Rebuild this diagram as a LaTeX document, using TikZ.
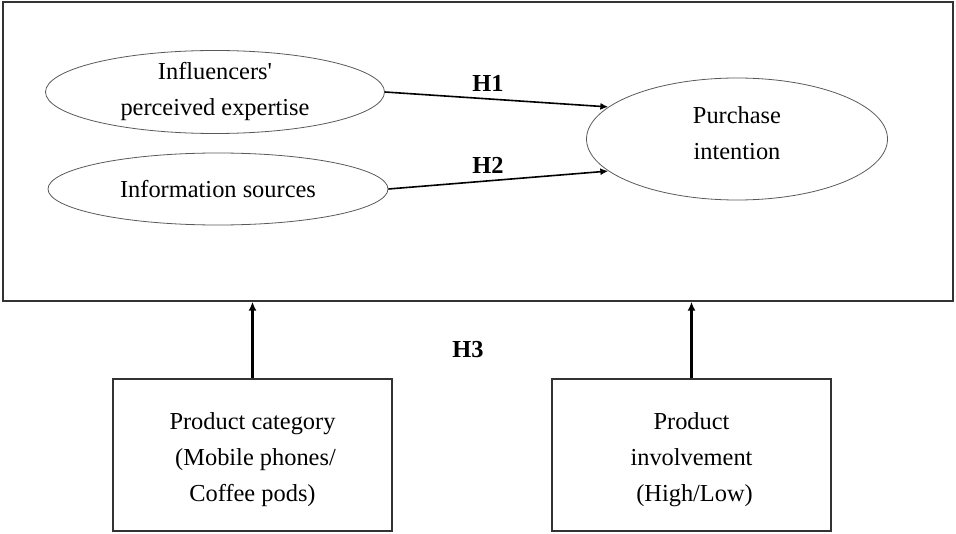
\documentclass[tikz,border=0pt]{standalone}
\usepackage{fontspec}
\setmainfont{Liberation Serif}
\usetikzlibrary{shapes.geometric,arrows.meta}
\begin{document}
\begin{tikzpicture}[x=0.5pt, y=-0.5pt,
  every node/.style={font=\fontsize{12.2}{18}\selectfont, align=center, inner sep=0pt},
  oval/.style={draw=black!65, line width=0.4pt, ellipse},
  factor/.style={draw=black!80, line width=0.7pt, minimum width=139.5pt, minimum height=76pt},
  link/.style={-{Latex[length=4pt,width=3.5pt]}, line width=0.8pt},
  moderate/.style={-{Latex[length=4.5pt,width=4pt]}, line width=1.3pt}]
  \useasboundingbox (0,0) rectangle (956,534);

  % outer frame
  \node[draw=black!80, line width=0.7pt, minimum width=475pt, minimum height=149.5pt] (frame) at (478,151.5) {};

  \node[oval, minimum width=169.5pt, minimum height=41.5pt] (expert) at (215,92) {Influencers\textquotesingle\\perceived expertise};
  \node[oval, minimum width=170pt, minimum height=36pt] (source) at (218,189) {Information sources};
  \node[oval, minimum width=150.5pt, minimum height=61pt] (intent) at (737,139) {Purchase\\intention\\[-12pt]};

  \draw[link] (expert.east) -- (intent.166.6);
  \draw[link] (source.east) -- (intent.194.2);
  \node[font=\fontsize{12.2}{18}\selectfont\bfseries] (h1) at (488,83) {H1};
  \node[font=\fontsize{12.2}{18}\selectfont\bfseries] (h2) at (488,165) {H2};

  % moderators
  \node[factor] (category) at (252.5,455) {\\[-5pt]Product category\\ \ (Mobile phones/\\Coffee pods)};
  \node[factor] (involve) at (691.5,455) {\\[-5pt]Product\\involvement\\ \ (High/Low)};

  \draw[moderate] (category.north) -- (category.north |- frame.south);
  \draw[moderate] (involve.north) -- (involve.north |- frame.south);
  \node[font=\fontsize{12.2}{18}\selectfont\bfseries] (h3) at (468,350) {H3};
\end{tikzpicture}
\end{document}
